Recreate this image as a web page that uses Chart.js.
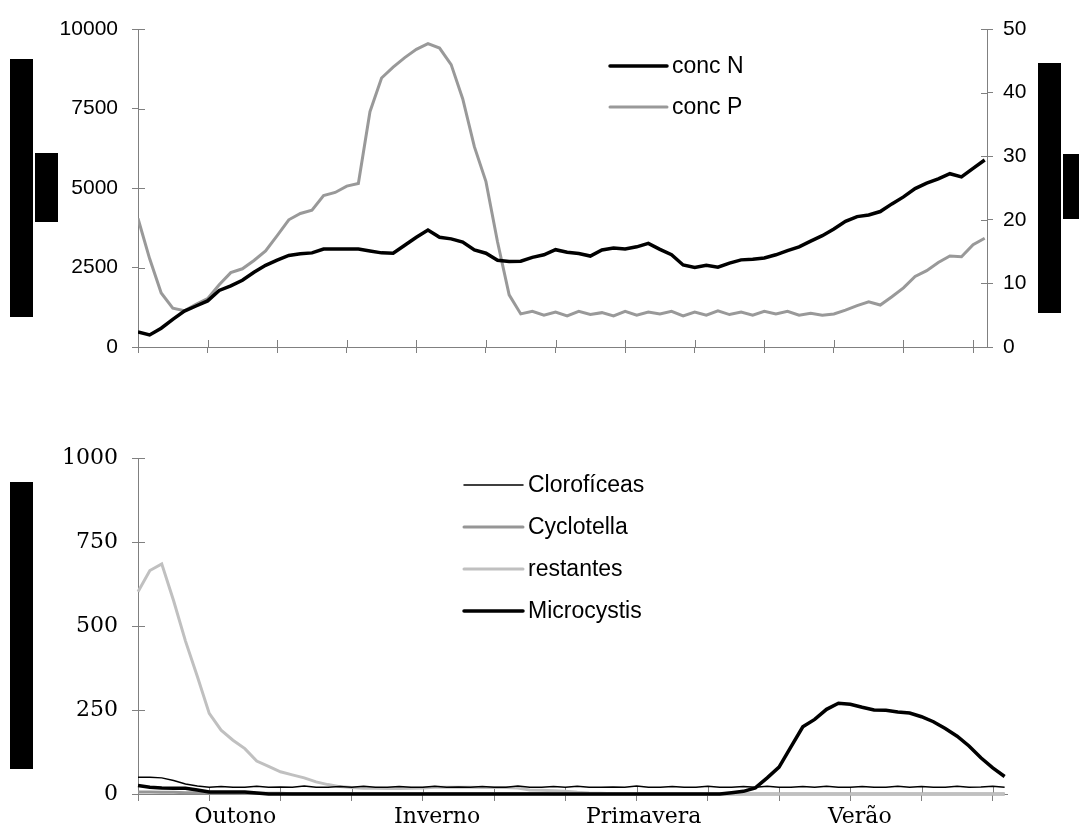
<!DOCTYPE html>
<html>
<head>
<meta charset="utf-8">
<script src="https://cdn.jsdelivr.net/npm/chart.js@4.4.1/dist/chart.umd.min.js"></script>
<style>
  body { margin: 0; background: #fff; width: 1079px; height: 827px; position: relative; overflow: hidden; }
  #topo { position: absolute; left: 0; top: 0; }
  #baixo { position: absolute; left: 0; top: 420px; }
</style>
</head>
<body>
<canvas id="topo" width="1079" height="380"></canvas>
<canvas id="baixo" width="1079" height="407"></canvas>
<script>
// dia do ano, amostrado a cada 5 dias
const days = Array.from({ length: 74 }, (_, i) => i * 5);
const monthTicks = [0, 30, 60, 90, 120, 150, 180, 210, 240, 270, 300, 330, 360];
const seasons = ['Outono', 'Inverno', 'Primavera', 'Verão'];
const seasonDays = [41, 126, 213, 304];

const concN = [
  470, 380, 590, 870, 1130, 1290, 1450, 1780, 1920, 2100,
  2350, 2570, 2730, 2880, 2930, 2960, 3080, 3080, 3080, 3080,
  3020, 2960, 2950, 3200, 3450, 3680, 3450, 3400, 3300, 3050,
  2950, 2730, 2690, 2700, 2820, 2900, 3060, 2980, 2940, 2860,
  3050, 3110, 3080, 3150, 3260, 3070, 2900, 2580, 2500, 2570,
  2510, 2640, 2740, 2760, 2800, 2900, 3030, 3150, 3330, 3500,
  3710, 3950, 4100, 4150, 4260, 4500, 4720, 4980, 5150, 5290,
  5450, 5350, 5620, 5880
];
const concP = [
  20.2, 13.9, 8.5, 6.1, 5.7, 6.7, 7.6, 9.8, 11.7, 12.3,
  13.6, 15.1, 17.5, 20.0, 21.0, 21.5, 23.8, 24.3, 25.3, 25.7,
  37.0, 42.3, 44.0, 45.5, 46.8, 47.7, 47.0, 44.4, 39.0, 31.5,
  26.0, 16.5, 8.2, 5.2, 5.6, 5.0, 5.5, 4.9, 5.6, 5.1,
  5.4, 4.9, 5.6, 5.0, 5.5, 5.2, 5.6, 4.9, 5.5, 5.0,
  5.7, 5.1, 5.5, 5.0, 5.6, 5.2, 5.6, 5.0, 5.3, 5.0,
  5.2, 5.8, 6.5, 7.1, 6.6, 7.9, 9.3, 11.1, 12.0, 13.3,
  14.3, 14.2, 16.1, 17.1
];

const clorofíceas = [
  50, 50, 48, 40, 30, 24, 20, 22, 20, 20,
  23, 20, 21, 20, 24, 20, 20, 22, 20, 23,
  20, 20, 22, 20, 20, 23, 20, 21, 20, 22,
  20, 20, 24, 20, 20, 22, 20, 23, 20, 20,
  21, 20, 24, 20, 20, 22, 20, 20, 23, 20,
  20, 22, 20, 23, 20, 20, 22, 20, 23, 20,
  20, 22, 20, 20, 23, 20, 22, 20, 20, 23,
  20, 21, 23, 20
];
const cyclotella = [
  6, 6, 5, 5, 4, 4, 3, 3, 3, 2,
  2, 2, 2, 1, 1, 1, 1, 1, 1, 1,
  1, 1, 1, 1, 1, 1, 1, 1, 1, 1,
  1, 1, 1, 1, 1, 0, 0, 0, 0, 0,
  0, 0, 0, 0, 0, 0, 0, 0, 0, 0,
  0, 0, 0, 0, 0, 0, 0, 0, 0, 0,
  0, 0, 0, 0, 0, 0, 0, 0, 0, 0,
  0, 0, 0, 0
];
const restantes = [
  602, 665, 685, 575, 455, 350, 240, 190, 160, 135,
  98, 82, 66, 57, 48, 36, 28, 22, 19, 17,
  17, 16, 16, 17, 18, 20, 20, 20, 20, 19,
  19, 19, 18, 12, 11, 10, 8, 5, 3, 2,
  1, 0, 0, 0, 0, 0, 0, 0, 0, 0,
  0, 0, 0, 0, 0, 0, 0, 0, 0, 0,
  0, 0, 0, 0, 0, 0, 0, 0, 0, 0,
  0, 0, 0, 0
];
const microcystis = [
  25, 20, 18, 17, 17, 12, 6, 6, 6, 6,
  3, 0, 0, 0, 0, 0, 0, 0, 0, 0,
  0, 0, 0, 0, 0, 0, 0, 0, 0, 0,
  0, 0, 0, 0, 0, 0, 0, 0, 0, 0,
  0, 0, 0, 0, 0, 0, 0, 0, 0, 0,
  4, 8, 18, 48, 80, 140, 200, 222, 252, 270,
  267, 258, 250, 249, 244, 241, 230, 215, 195, 172,
  143, 108, 78, 52
];

const axisGray = '#808080';
const pts = arr => arr.map((v, i) => ({ x: days[i], y: v }));

// marcas de escala que cruzam o eixo (parte interior)
const innerTicks = {
  id: 'innerTicks',
  beforeDatasetsDraw(chart) {
    const ctx = chart.ctx, a = chart.chartArea;
    ctx.save();
    ctx.strokeStyle = axisGray;
    ctx.lineWidth = 1;
    ctx.beginPath();
    Object.values(chart.scales).forEach(s => {
      if (s.axis === 'x') {
        monthTicks.forEach(v => {
          const p = Math.round(s.getPixelForValue(v)) + 0.5;
          ctx.moveTo(p, a.bottom); ctx.lineTo(p, a.bottom - 7);
        });
      } else {
        s.ticks.forEach(t => {
          const p = Math.round(s.getPixelForValue(t.value)) + 0.5;
          if (s.position === 'left') { ctx.moveTo(a.left, p); ctx.lineTo(a.left + 7, p); }
          else { ctx.moveTo(a.right, p); ctx.lineTo(a.right - 6, p); }
        });
      }
    });
    ctx.stroke();
    ctx.restore();
  }
};

// legenda desenhada dentro da área
const legendaInterna = {
  id: 'legendaInterna',
  afterDatasetsDraw(chart, args, opts) {
    const ctx = chart.ctx;
    ctx.save();
    ctx.font = opts.font;
    ctx.textBaseline = 'middle';
    ctx.fillStyle = '#000';
    opts.order.forEach((di, row) => {
      const ds = chart.data.datasets[di];
      const y = opts.y + row * opts.gap;
      ctx.strokeStyle = ds.borderColor;
      ctx.lineWidth = ds.borderWidth;
      ctx.lineCap = 'round';
      ctx.beginPath();
      ctx.moveTo(opts.x, y); ctx.lineTo(opts.x + opts.len, y);
      ctx.stroke();
      ctx.fillText(ds.label, opts.x + opts.len + 5, y + 1);
    });
    ctx.restore();
  }
};

// títulos dos eixos tapados na figura original
const tarjas = {
  id: 'tarjas',
  afterDraw(chart, args, opts) {
    const ctx = chart.ctx;
    ctx.save();
    ctx.fillStyle = '#000';
    (opts.rects || []).forEach(r => ctx.fillRect(r[0], r[1], r[2], r[3]));
    ctx.restore();
  }
};

const sans = { family: '"Liberation Sans", Arial, sans-serif', size: 21 };
const serif = { family: '"DejaVu Serif", serif', size: 22 };

new Chart(document.getElementById('topo'), {
  type: 'line',
  data: {
    datasets: [
      { label: 'conc N', data: pts(concN), yAxisID: 'y', borderColor: '#000000', borderWidth: 3.5 },
      { label: 'conc P', data: pts(concP), yAxisID: 'y1', borderColor: '#999999', borderWidth: 3 }
    ]
  },
  options: {
    responsive: false,
    animation: false,
    layout: { padding: { top: 29, left: 0, right: 0, bottom: 0 } },
    elements: { point: { radius: 0 }, line: { tension: 0 } },
    scales: {
      x: {
        type: 'linear', min: 0, max: 366,
        afterBuildTicks: s => { s.ticks = monthTicks.map(v => ({ value: v })); },
        afterFit: s => { s.height = 33; },
        border: { color: axisGray },
        grid: { drawOnChartArea: false, tickLength: 6, tickColor: axisGray },
        ticks: { display: false, autoSkip: false }
      },
      y: {
        position: 'left', min: 0, max: 10000,
        afterFit: s => { s.width = 138; },
        border: { color: axisGray },
        grid: { drawOnChartArea: false, tickLength: 6, tickColor: axisGray },
        ticks: { stepSize: 2500, padding: 14, color: '#000', font: sans, callback: v => String(v) }
      },
      y1: {
        position: 'right', min: 0, max: 50,
        afterFit: s => { s.width = 92; },
        border: { color: axisGray },
        grid: { drawOnChartArea: false, tickLength: 6, tickColor: axisGray },
        ticks: { stepSize: 10, padding: 10, color: '#000', font: sans, callback: v => String(v) }
      }
    },
    plugins: {
      legend: { display: false },
      tooltip: { enabled: false },
      legendaInterna: { x: 610, y: 66, gap: 41, len: 57, order: [0, 1], font: '23px "Liberation Sans", Arial, sans-serif' },
      tarjas: { rects: [[10, 59, 23, 258], [35, 153, 23, 69], [1038, 63, 23, 250], [1063, 154, 16, 65]] }
    }
  },
  plugins: [innerTicks, legendaInterna, tarjas]
});

new Chart(document.getElementById('baixo'), {
  type: 'line',
  data: {
    datasets: [
      { label: 'Clorofíceas', data: pts(clorofíceas), borderColor: '#000000', borderWidth: 1.5, order: 0, clip: false },
      { label: 'Cyclotella', data: pts(cyclotella), borderColor: '#969696', borderWidth: 3, order: 3, clip: false },
      { label: 'restantes', data: pts(restantes), borderColor: '#c0c0c0', borderWidth: 3, order: 2, clip: false },
      { label: 'Microcystis', data: pts(microcystis), borderColor: '#000000', borderWidth: 3.5, order: 1, clip: false }
    ]
  },
  options: {
    responsive: false,
    animation: false,
    layout: { padding: { top: 38, left: 0, right: 72, bottom: 0 } },
    elements: { point: { radius: 0 }, line: { tension: 0 } },
    scales: {
      x: {
        type: 'linear', min: 0, max: 366,
        afterBuildTicks: s => {
          s.ticks = monthTicks.concat(seasonDays).sort((a, b) => a - b).map(v => ({ value: v }));
        },
        afterFit: s => { s.height = 33; },
        border: { color: axisGray },
        grid: {
          drawOnChartArea: false, tickLength: 7,
          tickColor: c => (c.tick && seasonDays.includes(c.tick.value)) ? 'rgba(0,0,0,0)' : axisGray
        },
        ticks: {
          autoSkip: false, maxRotation: 0, minRotation: 0, padding: 3, color: '#000', font: serif,
          callback: v => { const i = seasonDays.indexOf(v); return i >= 0 ? seasons[i] : ''; }
        }
      },
      y: {
        position: 'left', min: 0, max: 1000,
        afterFit: s => { s.width = 138; },
        border: { color: axisGray },
        grid: { drawOnChartArea: false, tickLength: 6, tickColor: axisGray },
        ticks: { stepSize: 250, padding: 14, color: '#000', font: serif, callback: v => String(v) }
      }
    },
    plugins: {
      legend: { display: false },
      tooltip: { enabled: false },
      legendaInterna: { x: 464, y: 65, gap: 42, len: 59, order: [0, 1, 2, 3], font: '23px "Liberation Sans", Arial, sans-serif' },
      tarjas: { rects: [[10, 62, 23, 287]] }
    }
  },
  plugins: [innerTicks, legendaInterna, tarjas]
});
</script>
</body>
</html>
